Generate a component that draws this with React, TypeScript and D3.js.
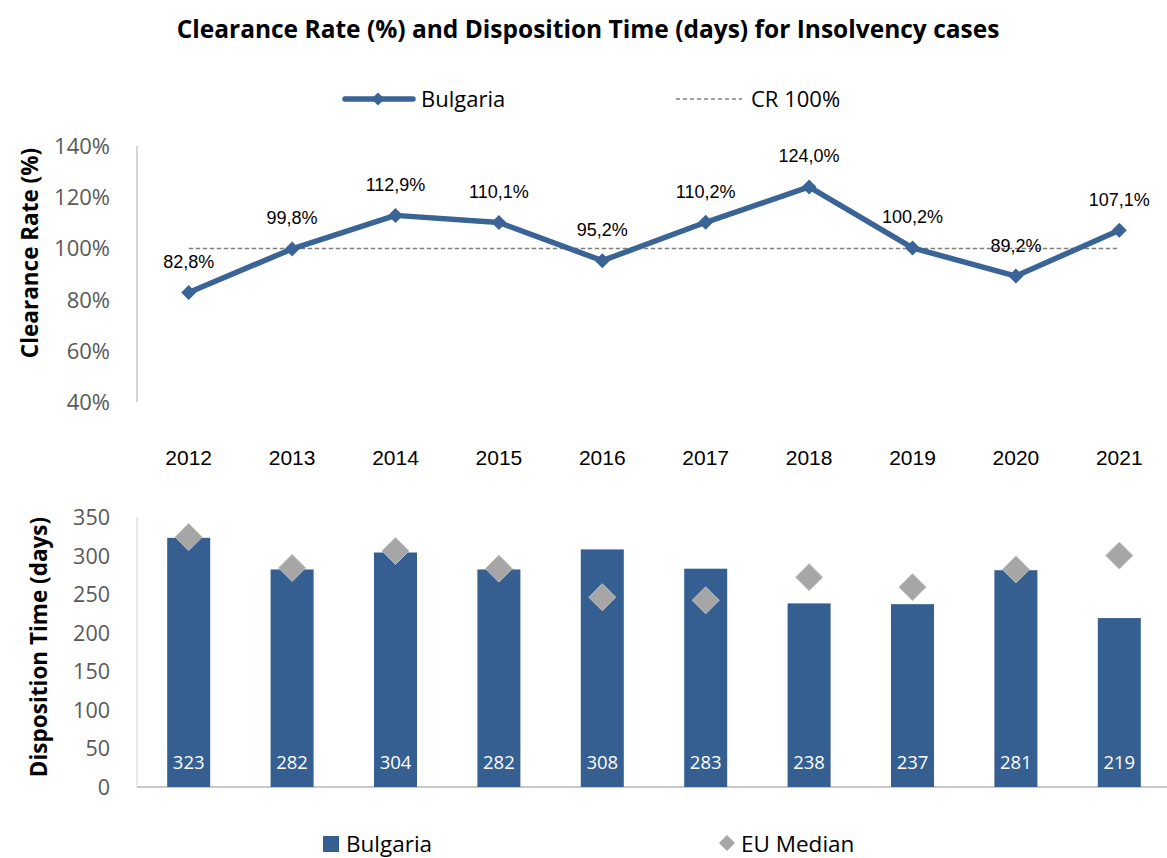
import React from "react";
import * as d3 from "d3";

const years = ["2012","2013","2014","2015","2016","2017","2018","2019","2020","2021"];
const clearanceRate = [82.8, 99.8, 112.9, 110.1, 95.2, 110.2, 124.0, 100.2, 89.2, 107.1];
const crReference = [100,100,100,100,100,100,100,100,100,100];
const dispositionTime = [323, 282, 304, 282, 308, 283, 238, 237, 281, 219];
const euMedian = [324, 284, 306, 283, 246, 242, 272, 259, 282, 300];
const crTicks = [40, 60, 80, 100, 120, 140];
const dtTicks = [0, 50, 100, 150, 200, 250, 300, 350];

const BLUE = "#3a6496";
const BAR = "#365f91";
const GREY = "#a6a6a6";
const FONT = "'Open Sans', 'Noto Sans', sans-serif";
const ARIAL = "'Liberation Sans', Arial, sans-serif";

export default function App() {
  const W = 1167, H = 858;
  const x = d3.scaleBand<string>().domain(years).range([137, 1171]).paddingInner(0).paddingOuter(0);
  const cx = (y: string) => (x(y) as number) + x.bandwidth() / 2;
  const yTop = d3.scaleLinear().domain([40, 140]).range([402, 146]);
  const yBot = d3.scaleLinear().domain([0, 350]).range([787, 517]);

  const line = d3.line<number>().x((_, i) => cx(years[i])).y(d => yTop(d));
  const diamond = (px: number, py: number, r: number) =>
    `M${px},${py - r}L${px + r},${py}L${px},${py + r}L${px - r},${py}Z`;
  const barW = 43;
  const fmt = (v: number) => v.toFixed(1).replace(".", ",") + "%";

  return (
    <svg width={W} height={H} style={{ position: "absolute", left: 0, top: 0, fontFamily: FONT }}>
      <rect width={W} height={H} fill="#fff" />
      <text x={588} y={38} textAnchor="middle" fontSize={24.5} fontWeight="bold" fill="#000">
        Clearance Rate (%) and Disposition Time (days) for Insolvency cases
      </text>

      {/* Top legend */}
      <line x1={345} x2={413} y1={99} y2={99} stroke={BLUE} strokeWidth={5.5} strokeLinecap="round" />
      <path d={diamond(378, 99, 6.5)} fill={BLUE} />
      <text x={421} y={107} fontSize={22} fill="#000">Bulgaria</text>
      <line x1={676} x2={742} y1={99} y2={99} stroke="#808080" strokeWidth={1.3} strokeDasharray="4,3" />
      <text x={751} y={107} fontSize={22} fill="#000">CR 100%</text>

      {/* Top chart axes */}
      <line x1={137} x2={137} y1={146} y2={402} stroke="#c8c8c8" strokeWidth={1.5} />
      {crTicks.map(t => (
        <text key={t} x={110} y={yTop(t) + 8} textAnchor="end" fontSize={22} fill="#595959">{t}%</text>
      ))}
      <text transform={`translate(38,253) rotate(-90)`} textAnchor="middle" fontSize={22.5} fontWeight="bold" fill="#000">
        Clearance Rate (%)
      </text>
      {years.map(y => (
        <text key={y} x={cx(y)} y={465} textAnchor="middle" fontSize={21} fontFamily={ARIAL} fill="#000">{y}</text>
      ))}
      <path d={line(crReference) as string} fill="none" stroke="#808080" strokeWidth={1.5} strokeDasharray="4.5,2.5" />
      <path d={line(clearanceRate) as string} fill="none" stroke={BLUE} strokeWidth={5.5} strokeLinejoin="round" />
      {clearanceRate.map((v, i) => (
        <path key={i} d={diamond(cx(years[i]), yTop(v), 7.5)} fill={BLUE} />
      ))}
      {clearanceRate.map((v, i) => (
        <text key={"l" + i} x={cx(years[i])} y={yTop(v) - 24.5} textAnchor="middle" fontSize={18} fontFamily={ARIAL} fill="#000">{fmt(v)}</text>
      ))}

      {/* Bottom chart */}
      <line x1={137} x2={137} y1={517} y2={787} stroke="#d9d9d9" strokeWidth={1.2} />
      <line x1={137} x2={1171} y1={787} y2={787} stroke="#c8c8c8" strokeWidth={2} />
      {dtTicks.map(t => (
        <text key={t} x={110} y={yBot(t) + 8} textAnchor="end" fontSize={21.5} fill="#595959">{t}</text>
      ))}
      <text transform={`translate(47,647) rotate(-90)`} textAnchor="middle" fontSize={22.5} fontWeight="bold" fill="#000">
        Disposition Time (days)
      </text>
      {dispositionTime.map((v, i) => (
        <rect key={i} x={cx(years[i]) - barW / 2} y={yBot(v)} width={barW} height={yBot(0) - yBot(v)} fill={BAR} />
      ))}
      {dispositionTime.map((v, i) => (
        <text key={"b" + i} x={cx(years[i])} y={769} textAnchor="middle" fontSize={18.5} fill="#fff">{v}</text>
      ))}
      {euMedian.map((v, i) => (
        <path key={"e" + i} d={diamond(cx(years[i]), yBot(v), 13.5)} fill={GREY} stroke="#bfbfbf" strokeWidth={1} />
      ))}

      {/* Bottom legend */}
      <rect x={323} y={836} width={16} height={16} fill={BAR} />
      <text x={346} y={852} fontSize={22.5} fill="#000">Bulgaria</text>
      <path d={diamond(727, 843, 8)} fill={GREY} />
      <text x={741} y={852} fontSize={22.5} fill="#000">EU Median</text>
    </svg>
  );
}
